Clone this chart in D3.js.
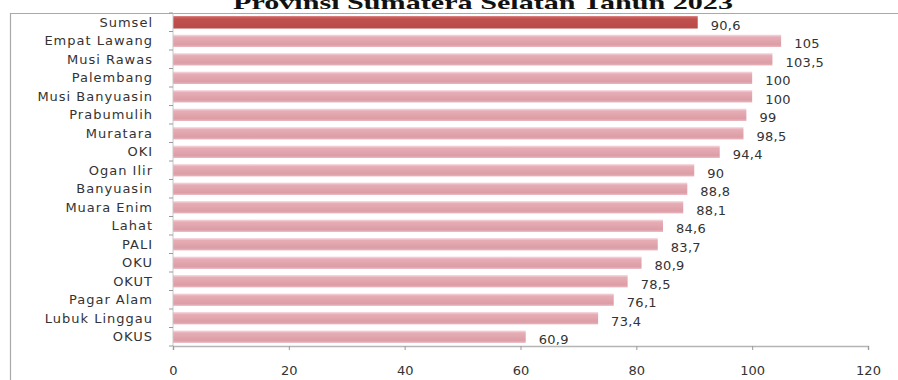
<!DOCTYPE html>
<html>
<head>
<meta charset="utf-8">
<script src="https://cdn.jsdelivr.net/npm/d3@7"></script>
<style>
  body { margin: 0; background: #fff; }
  svg { display: block; }
</style>
</head>
<body>
<script>
// data
const regions = ['Sumsel', 'Empat Lawang', 'Musi Rawas', 'Palembang', 'Musi Banyuasin',
  'Prabumulih', 'Muratara', 'OKI', 'Ogan Ilir', 'Banyuasin', 'Muara Enim', 'Lahat',
  'PALI', 'OKU', 'OKUT', 'Pagar Alam', 'Lubuk Linggau', 'OKUS'];
const values = [90.6, 105, 103.5, 100, 100, 99, 98.5, 94.4, 90, 88.8, 88.1, 84.6,
  83.7, 80.9, 78.5, 76.1, 73.4, 60.9];
const xTicks = [0, 20, 40, 60, 80, 100, 120];
const title = 'Provinsi Sumatera Selatan Tahun 2023';

const W = 898, H = 380;
const svg = d3.select('body').append('svg')
  .attr('width', W)
  .attr('height', H);

// gradients for the bars
const defs = svg.append('defs');
function gradient(id, stops) {
  const g = defs.append('linearGradient')
    .attr('id', id)
    .attr('x1', 0).attr('y1', 0).attr('x2', 0).attr('y2', 1);
  stops.forEach(s => g.append('stop').attr('offset', s[0]).attr('stop-color', s[1]));
}
gradient('pink', [[0, '#f9dce4'], [0.2, '#e6adb5'], [0.8, '#dc9da6'], [1, '#e9b7bf']]);
gradient('red', [[0, '#d46a66'], [0.25, '#c0504d'], [1, '#b84a48']]);

// chart frame
svg.append('path')
  .attr('d', `M10.5,${H} V13.5 H${W}`)
  .attr('fill', 'none')
  .attr('stroke', '#a9a9a9')
  .attr('stroke-width', 1.2);

// title (its top is cut off in the original)
svg.append('text')
  .attr('x', 483)
  .attr('y', 9)
  .attr('text-anchor', 'middle')
  .attr('textLength', 500)
  .attr('lengthAdjust', 'spacingAndGlyphs')
  .style('font-family', '"Liberation Serif", serif')
  .style('font-weight', 'bold')
  .style('font-size', '19px')
  .style('fill', '#111')
  .text(title);

// scales
const x = d3.scaleLinear().domain([0, 120]).range([173, 868]);
const y = d3.scaleBand().domain(regions).range([13, 346]).paddingInner(0.33).paddingOuter(0.17);

// bars
svg.selectAll('rect.bar')
  .data(values)
  .enter()
  .append('rect')
  .attr('class', 'bar')
  .attr('x', x(0))
  .attr('y', (d, i) => y(regions[i]))
  .attr('width', d => x(d) - x(0))
  .attr('height', y.bandwidth())
  .attr('fill', (d, i) => i === 0 ? 'url(#red)' : 'url(#pink)');

// value labels, comma decimals
svg.selectAll('text.val')
  .data(values)
  .enter()
  .append('text')
  .attr('class', 'val')
  .attr('x', d => x(d) + 13)
  .attr('y', (d, i) => y(regions[i]) + y.bandwidth() / 2 + 3)
  .attr('dy', '0.35em')
  .style('font-family', '"DejaVu Sans", sans-serif')
  .style('font-size', '13px')
  .style('letter-spacing', '0.3px')
  .style('fill', '#333')
  .text(d => String(d).replace('.', ','));

// category axis
const yAxis = svg.append('g')
  .attr('transform', `translate(${x(0)},0)`);
yAxis.append('line')
  .attr('y1', 13).attr('y2', 346)
  .attr('stroke', '#c8c8c8');
yAxis.selectAll('line.tk')
  .data(d3.range(regions.length + 1))
  .enter()
  .append('line')
  .attr('class', 'tk')
  .attr('x1', -4).attr('x2', 0)
  .attr('y1', i => 13 + i * (333 / regions.length))
  .attr('y2', i => 13 + i * (333 / regions.length))
  .attr('stroke', '#999');
yAxis.selectAll('text')
  .data(regions)
  .enter()
  .append('text')
  .attr('x', -20)
  .attr('y', d => y(d) + y.bandwidth() / 2)
  .attr('dy', '0.35em')
  .attr('text-anchor', 'end')
  .style('font-family', '"DejaVu Sans", sans-serif')
  .style('font-size', '13px')
  .style('letter-spacing', '1px')
  .style('fill', '#333')
  .text(d => d);

// value axis
const xAxis = svg.append('g')
  .attr('transform', 'translate(0,346)')
  .call(d3.axisBottom(x).tickValues(xTicks).tickSize(4).tickPadding(16));
xAxis.select('.domain').attr('stroke', '#b5b5b5').attr('stroke-width', 1.5);
xAxis.selectAll('.tick line').attr('stroke', '#999');
xAxis.selectAll('.tick text')
  .style('font-family', '"DejaVu Sans", sans-serif')
  .style('font-size', '13px')
  .style('fill', '#333');
</script>
</body>
</html>
